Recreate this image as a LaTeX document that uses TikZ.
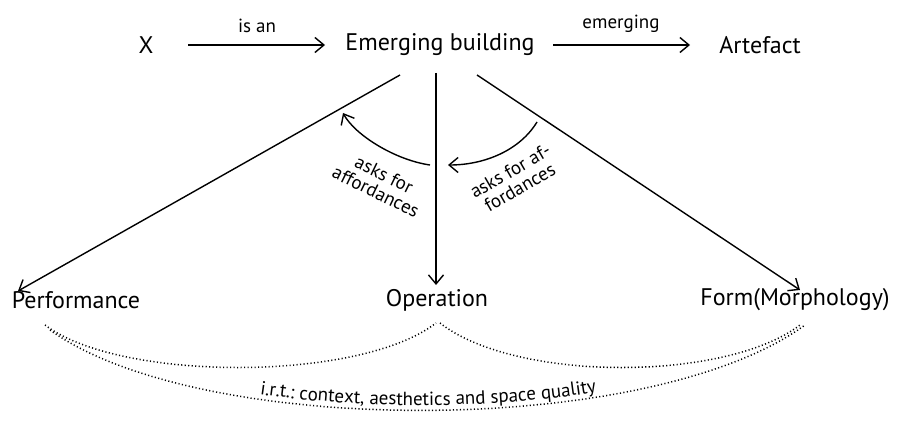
\documentclass[tikz,border=0pt]{standalone}
\usepackage{fontspec}
\setmainfont{PT Sans}
\usetikzlibrary{arrows.meta,decorations.text}
\begin{document}
\begin{tikzpicture}[x=1pt,y=-1pt,
  lbl/.style={font=\fontsize{24}{26}\selectfont, inner sep=0pt},
  small/.style={font=\fontsize{19}{19}\selectfont, inner sep=1pt},
  arr/.style={line width=1.4pt, -{Straight Barb[length=9pt,width=15pt,line width=1.4pt]}},
  dots/.style={line width=1.5pt, dash pattern=on 1.1pt off 2.4pt}]
\useasboundingbox (0,0) rectangle (901,441);
\node[lbl] (x) at (146,45) {X};
\node[lbl] (eb) at (440,45) {Emerging building};
\node[lbl] (art) at (760,45) {Artefact};
\node[lbl] (perf) at (76,300) {Performance};
\node[lbl] (op) at (437,300) {Operation};
\node[lbl] (form) at (795,300) {Form(Morphology)};
% top arrows
\coordinate (xa) at (188,45);
\coordinate (xb) at (325,45);
\coordinate (ea) at (553,45);
\coordinate (eb2) at (690,45);
\draw[arr] (xa) -- (xb);
\node[small] (isan) at (257,26) {is an};
\draw[arr] (ea) -- (eb2);
\node[small] (emg) at (621,24) {emerging};
% down arrows
\coordinate (s1) at (400,75);
\coordinate (s2) at (436,73);
\coordinate (s3) at (477,75);
\coordinate (t1) at (18,291);
\coordinate (t2) at (436,285);
\coordinate (t3) at (800,290);
\draw[arr] (s1) -- (t1);
\draw[arr] (s2) -- (t2);
\draw[arr] (s3) -- (t3);
% curved arrows
\coordinate (c1a) at (430,165);
\coordinate (c1b) at (343,113);
\coordinate (c2a) at (537,122);
\coordinate (c2b) at (448,165);
\draw[arr] (c1a) .. controls (395,160) and (355,135) .. (c1b);
\draw[arr] (c2a) .. controls (520,150) and (485,165) .. (c2b);
\node[small, rotate=-26, align=center] (aff1) at (380,183) {asks for\\affordances};
\node[small, rotate=30, align=center] (aff2) at (515,179) {asks for af-\\fordances};
% dotted arcs
\draw[dots] (45,325) .. controls (120,382) and (360,382) .. (436,323);
\draw[dots] (440,323) .. controls (515,382) and (725,382) .. (800,325);
\draw[dots] (50,330) .. controls (200,438) and (650,438) .. (805,325);
\path[decorate, decoration={text along path, text align=center, raise=5pt,
  text={|\fontsize{19}{19}\selectfont|i.r.t.: context, aesthetics and space quality}}]
  (50,330) .. controls (200,438) and (650,438) .. (805,325);
\end{tikzpicture}
\end{document}
